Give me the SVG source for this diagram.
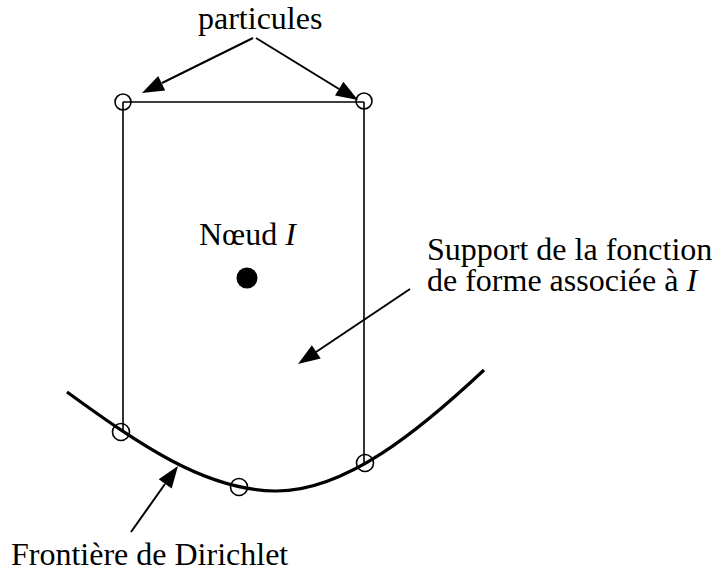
<svg xmlns="http://www.w3.org/2000/svg" width="719" height="573" viewBox="0 0 719 573">
<style>
text{font-family:"Liberation Serif","Times New Roman",serif;font-size:32px;fill:#000}
.it{font-family:"Liberation Serif","Times New Roman",serif;font-style:italic}
.thin{stroke:#000;stroke-width:1.6;fill:none}
.ln{stroke:#000;stroke-width:2;fill:none}
.pt{stroke:#000;stroke-width:1.6;fill:none}
.hd{fill:#000;stroke:none}
</style>
<rect width="719" height="573" fill="#fff"/>
<g id="support">
<path class="thin" d="M123,102 H364 M123,102 V432 M364,102 V463"/>
</g>
<g id="frontiere">
<path d="M67,392 C140,445 205,490 275,491 S420,430 484,370" fill="none" stroke="#000" stroke-width="3.2"/>
</g>
<g id="particules-pts">
<circle class="pt" cx="123" cy="102" r="8"/>
<circle class="pt" cx="364" cy="101" r="8"/>
<circle class="pt" cx="121" cy="432" r="8.5"/>
<circle class="pt" cx="365" cy="463" r="8.5"/>
<circle class="pt" cx="239" cy="487" r="8.5"/>
</g>
<g id="noeud">
<circle cx="247" cy="278" r="10.5" fill="#000"/>
<text x="199" y="245">Nœud <tspan class="it">I</tspan></text>
</g>
<g id="labels">
<text x="198" y="29">particules</text>
<text x="427" y="260">Support de la fonction</text>
<text x="427" y="291">de forme associée à <tspan class="it">I</tspan></text>
<text x="11" y="565">Frontière de Dirichlet</text>
</g>
<g id="connectors">
<path class="ln" d="M253,38 L162,83"/>
<polygon class="hd" points="142,93 158.2,76 165.2,90.4"/>
<path class="ln" d="M256,38 L339,89"/>
<polygon class="hd" points="358,100 335,95.4 343.4,81.8"/>
<path class="ln" d="M410,289 L316,352"/>
<polygon class="hd" points="298,364 311.9,345.2 320.7,358.4"/>
<path class="ln" d="M131,532 L165,484"/>
<polygon class="hd" points="178,466 171.7,488.5 158.7,479.3"/>
</g>
</svg>
